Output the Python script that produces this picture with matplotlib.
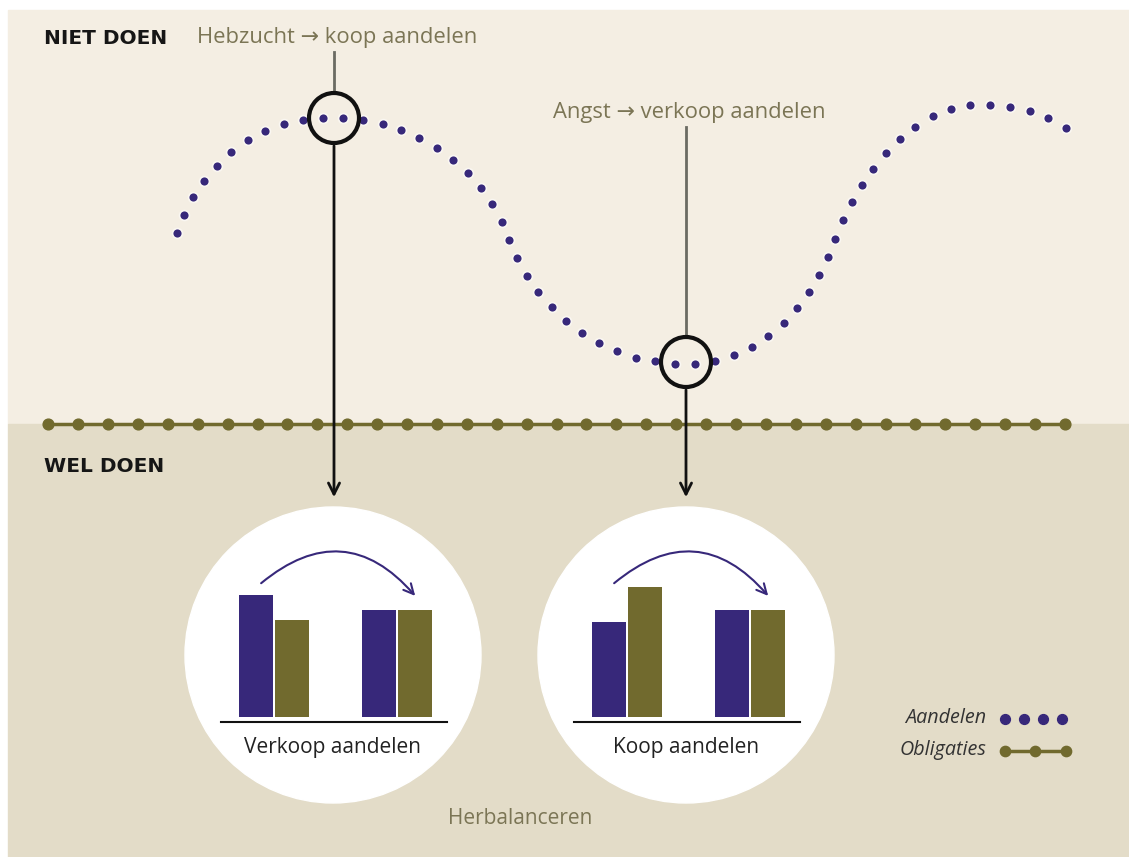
import matplotlib.pyplot as plt
from matplotlib.patches import Rectangle, Circle, FancyArrowPatch

# Aandelen koers (pixel-achtige coordinaten, y naar beneden)
aandelen_x = [176.7, 184, 193.3, 204.3, 217.3, 231.3, 247.7, 265.3, 284, 303.3,
              322.7, 343, 362.7, 382.7, 401, 419.3, 436.7, 452.7, 467.7, 480.7,
              492, 501.7, 508.7, 517, 527.3, 538.3, 551.7, 565.7, 581.7, 599,
              617, 636, 655.3, 675.3, 695, 715, 734, 751.7, 768.3, 783.7,
              796.7, 809, 819.3, 828.3, 835.3, 842.7, 851.7, 861.7, 872.7, 886,
              899.7, 915.3, 932.5, 950.7, 970, 990, 1010, 1030, 1048.3, 1066]
aandelen_y = [233.3, 215, 197.3, 180.7, 165.7, 152, 140.3, 131, 124, 120,
              118, 118, 120.3, 123.7, 130.3, 138, 147.7, 160, 173, 188,
              204, 221.7, 240.3, 258.3, 275.7, 292.3, 307, 320.7, 333, 343,
              351.3, 357.7, 361.3, 363.7, 363.7, 360.7, 355, 346.7, 336, 322.7,
              308.3, 292, 274.7, 256.7, 239, 220, 202, 185.3, 169, 153.3,
              139.3, 126.7, 116, 109.3, 105, 105, 107.3, 111.3, 118, 127.7]

# Obligaties: vlakke lijn
obligaties_x = [48, 78, 108, 138, 168, 198, 228, 258, 287, 317, 347, 377, 407,
                437, 467, 497, 527, 557, 586, 616, 646, 676, 706, 736, 766, 796,
                826, 856, 886, 915, 945, 975, 1005, 1035, 1065]
obligaties_y = [424] * len(obligaties_x)

# Herbalanceren: verdeling voor / na
bar_labels = ['Verkoop aandelen', 'Koop aandelen']
voor_aandelen = [122, 95]
voor_obligaties = [97, 130]
na_aandelen = [107, 107]
na_obligaties = [107, 107]

PAARS = '#37287a'
OLIJF = '#716a2e'
TEKST_OLIJF = '#7b7555'
FONT = ['Open Sans', 'DejaVu Sans']
KOP = ['DejaVu Sans']

fig = plt.figure(figsize=(11.29, 8.57), dpi=100)
ax = fig.add_axes([0, 0, 1, 1])
ax.set_xlim(0, 1129)
ax.set_ylim(857, 0)
ax.axis('off')

# achtergrond
ax.add_patch(Rectangle((8, 10), 1121, 414, color='#f4eee3', zorder=0))
ax.add_patch(Rectangle((8, 424), 1121, 433, color='#e3dcc8', zorder=0))

ax.text(44, 38, 'NIET DOEN', fontsize=14.5, fontweight='bold', color='#161616',
        va='center', family=KOP)
ax.text(44, 466, 'WEL DOEN', fontsize=14.5, fontweight='bold', color='#161616',
        va='center', family=KOP)

# lijnen
ax.plot(obligaties_x, obligaties_y, color=OLIJF, lw=2.5, zorder=2)
ax.scatter(obligaties_x, obligaties_y, s=60, color=OLIJF, zorder=3)
ax.scatter(aandelen_x, aandelen_y, s=50, color=PAARS, edgecolor='#faf7f2',
           linewidth=1.2, zorder=3)

# annotaties
centra = [(334, 118), (686, 362)]
teksten = ['Hebzucht \u2192 koop aandelen', 'Angst \u2192 verkoop aandelen']
tekst_y = [37, 112]
for (cx, cy), t, ty in zip(centra, teksten, tekst_y):
    ax.text(cx + 3, ty, t, fontsize=15.8, color=TEKST_OLIJF, ha='center',
            va='center', family=FONT)
    ax.plot([cx, cx], [ty + 15, cy - 25], color='#6b6b63', lw=2, zorder=2)
    ax.add_patch(Circle((cx, cy), 25, fill=False, ec='#111111', lw=3, zorder=4))
    ax.add_patch(FancyArrowPatch((cx, cy + 25), (cx, 500), arrowstyle='->',
                                 mutation_scale=20, color='#111111', lw=2,
                                 zorder=4))

# cirkels met staafjes
breedte = 34
for i, (cx, cy) in enumerate([(333, 655), (686, 655)]):
    ax.add_patch(Circle((cx, cy), 148, color='white', zorder=1))
    basis = 717
    xs = [cx - 77, cx - 41, cx + 46, cx + 82]
    hoogtes = [voor_aandelen[i], voor_obligaties[i], na_aandelen[i], na_obligaties[i]]
    kleuren = [PAARS, OLIJF, PAARS, OLIJF]
    ax.bar(xs, [-h for h in hoogtes], bottom=basis, width=breedte,
           color=kleuren, zorder=2)
    ax.plot([cx - 112, cx + 114], [722, 722], color='#111111', lw=1.5, zorder=2)
    ax.text(cx, 748, bar_labels[i], fontsize=15, color='#222222', ha='center',
            va='center', family=FONT)
    ax.add_patch(FancyArrowPatch((cx - 74, 585), (cx + 84, 598),
                                 connectionstyle='arc3,rad=-0.5',
                                 arrowstyle='->', mutation_scale=18,
                                 color=PAARS, lw=1.5, zorder=3))

ax.text(520, 818, 'Herbalanceren', fontsize=15, color=TEKST_OLIJF, ha='center',
        va='center', family=FONT)

# legenda
ax.text(986, 718, 'Aandelen', fontsize=14.2, style='italic', color='#333333',
        ha='right', va='center', family=FONT)
ax.text(986, 750, 'Obligaties', fontsize=14.2, style='italic', color='#333333',
        ha='right', va='center', family=FONT)
ax.scatter([1005, 1024, 1043, 1062], [719] * 4, s=50, color=PAARS, zorder=3)
ax.plot([1005, 1066], [751, 751], color=OLIJF, lw=2.5)
ax.scatter([1005, 1035, 1066], [751] * 3, s=55, color=OLIJF, zorder=3)

fig.savefig('out.png', dpi=100)
